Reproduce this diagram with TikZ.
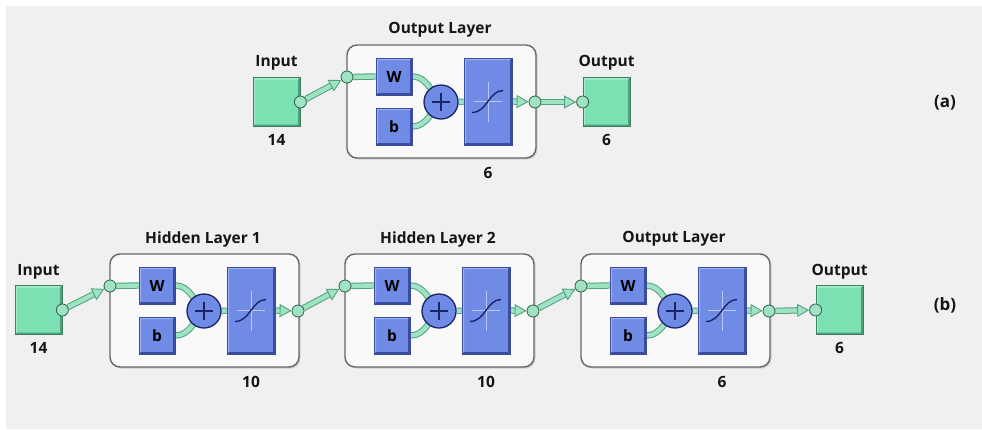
\documentclass[tikz,border=0pt]{standalone}
\usepackage{fontspec}
\setmainfont{Open Sans}
\usetikzlibrary{arrows.meta,calc}
\definecolor{bgG}{HTML}{F0F0F0}
\definecolor{mint}{HTML}{7BE0B2}
\definecolor{mintL}{HTML}{A8EECD}
\definecolor{mintD}{HTML}{4E9E7C}
\definecolor{bandL}{HTML}{9FE3C2}
\definecolor{bandD}{HTML}{4FA37F}
\definecolor{blu}{HTML}{6F8BE6}
\definecolor{bluL}{HTML}{9CAFF2}
\definecolor{bluD}{HTML}{3C4C9C}
\definecolor{navy}{HTML}{1B2466}
\definecolor{boxG}{HTML}{666666}
\definecolor{boxF}{HTML}{F9F9F9}
\definecolor{txt}{HTML}{151515}
\pgfdeclarelayer{back}\pgfdeclarelayer{bg}\pgfdeclarelayer{fg}
\pgfsetlayers{back,bg,main,fg}
\tikzset{
  lbl/.style={font=\bfseries\fontsize{15.5}{17}\selectfont, text=txt, inner sep=0pt},
  side/.style={font=\bfseries\fontsize{17}{19}\selectfont, text=txt, inner sep=0pt},
  bevel/.style 2 args={path picture={
    \fill[#1] (path picture bounding box.south west) -- (path picture bounding box.north west)
      -- (path picture bounding box.north east) -- ([xshift=-2pt,yshift=-2pt]path picture bounding box.north east)
      -- ([xshift=2pt,yshift=-2pt]path picture bounding box.north west) -- ([xshift=2pt,yshift=2pt]path picture bounding box.south west) -- cycle;
    \fill[#2] (path picture bounding box.south west) -- (path picture bounding box.south east)
      -- (path picture bounding box.north east) -- ([xshift=-2pt,yshift=-2pt]path picture bounding box.north east)
      -- ([xshift=-2pt,yshift=2pt]path picture bounding box.south east) -- ([xshift=2pt,yshift=2pt]path picture bounding box.south west) -- cycle;
  }},
  blk/.style={draw=bluD, line width=0.8pt, fill=blu, inner sep=0pt, bevel={bluL}{bluD},
    font=\bfseries\fontsize{15.5}{17}\selectfont, text=black},
  sq/.style={draw=mintD!80!black, line width=0.8pt, fill=mint, minimum width=47pt, minimum height=49pt,
    inner sep=0pt, bevel={mintL}{mintD}},
  dot/.style={circle, draw=mintD!60!black, line width=0.8pt, fill=bandL, minimum size=12pt, inner sep=0pt},
  plusc/.style={circle, draw=navy, line width=1.3pt, fill=blu, minimum size=34pt, inner sep=0pt,
    path picture={
      \draw[navy, line width=1.5pt] ([xshift=-9pt]path picture bounding box.center) -- ([xshift=9pt]path picture bounding box.center);
      \draw[navy, line width=1.5pt] ([yshift=-9pt]path picture bounding box.center) -- ([yshift=9pt]path picture bounding box.center);
    }},
  band/.style={line width=4.4pt, bandL, preaction={draw=bandD, line width=6.4pt}},
  arr/.style={line width=4.4pt, bandL,
    -{Triangle[length=12pt, width=13pt, line width=0.9pt, color=bandD, fill=bandL]},
    preaction={draw=bandD, line width=6.4pt, -{}, shorten >=11pt}},
}
\newcommand\nnlayer[5]{%
  \begin{pgfonlayer}{bg}
    \fill[black!18, rounded corners=10pt] (#2+1.5,#3+1.5) rectangle ++(189,113);
    \draw[boxG, line width=1.4pt, fill=boxF, rounded corners=10pt] (#2,#3) rectangle ++(189,113);
  \end{pgfonlayer}
  \node[lbl] (#1title) at (#2+93,#3-15) {#4};
  \node[lbl] (#1count) at (#2+141,#3+128) {#5};
  \begin{pgfonlayer}{fg}
    \node[blk, minimum width=36pt, minimum height=37pt] (#1W) at (#2+47,#3+31.5) {W};
    \node[blk, minimum width=36pt, minimum height=37pt] (#1b) at (#2+47,#3+81.5) {b};
    \node[plusc] (#1p) at (#2+94,#3+57) {};
    \node[blk, minimum width=48pt, minimum height=87pt] (#1t) at (#2+141,#3+56.5) {};
    \draw[bluL!70!white, line width=0.8pt] ([xshift=-14pt]#1t.center) -- ([xshift=14pt]#1t.center);
    \draw[bluL!70!white, line width=0.8pt] ([yshift=-20pt]#1t.center) -- ([yshift=20pt]#1t.center);
    \draw[navy, line width=1.4pt] ([shift={(-16pt,-11pt)}]#1t.center)
      .. controls ([shift={(-1pt,-11pt)}]#1t.center) and ([shift={(1pt,11pt)}]#1t.center)
      .. ([shift={(15pt,11pt)}]#1t.center);
    \node[dot] (#1in) at (#2,#3+32) {};
    \node[dot] (#1out) at (#2+188,#3+57) {};
  \end{pgfonlayer}
  \draw[band] (#1in) -- (#1W.west);
  \draw[band] (#1W.east) .. controls +(14,0) and +(-10,-10) .. (#1p.center);
  \draw[band] (#1b.east) .. controls +(14,0) and +(-10,10) .. (#1p.center);
  \draw[band] (#1p) -- (#1t);
  \draw[arr] (#1t.east) -- (#1out);
}
\begin{document}
\begin{tikzpicture}[x=1pt,y=-1pt]
  \useasboundingbox (0,0) rectangle (982,429);
  \begin{pgfonlayer}{back}
    \fill[white] (0,0) rectangle (982,429);
    \fill[bgG] (6,6) rectangle (982,429);
  \end{pgfonlayer}
  % ---------- (a)
  \begin{pgfonlayer}{fg}
    \node[sq] (ia) at (276.5,102) {};
    \node[dot] (iac) at (ia.east) {};
    \node[sq] (oa) at (606.5,102) {};
    \node[dot] (oac) at (oa.west) {};
  \end{pgfonlayer}
  \node[lbl] (iaT) at (276.5,63) {Input};
  \node[lbl] (iaN) at (276.5,140) {14};
  \node[lbl] (oaT) at (606.5,63) {Output};
  \node[lbl] (oaN) at (606.5,140) {6};
  \nnlayer{A}{347}{45}{Output Layer}{6}
  \draw[arr] (iac) -- (Ain);
  \draw[arr] (Aout) -- (oac);
  \node[side] (la) at (945,103) {(a)};
  % ---------- (b)
  \begin{pgfonlayer}{fg}
    \node[sq] (ib) at (38.5,310) {};
    \node[dot] (ibc) at (ib.east) {};
    \node[sq] (ob) at (839.5,310) {};
    \node[dot] (obc) at (ob.west) {};
  \end{pgfonlayer}
  \node[lbl] (ibT) at (38.5,272) {Input};
  \node[lbl] (ibN) at (38.5,348) {14};
  \node[lbl] (obT) at (839.5,272) {Output};
  \node[lbl] (obN) at (839.5,348) {6};
  \nnlayer{H}{110}{254}{Hidden Layer 1}{10}
  \nnlayer{I}{345}{254}{Hidden Layer 2}{10}
  \nnlayer{J}{581}{254}{Output Layer}{6}
  \draw[arr] (ibc) -- (Hin);
  \draw[arr] (Hout) -- (Iin);
  \draw[arr] (Iout) -- (Jin);
  \draw[arr] (Jout) -- (obc);
  \node[side] (lb) at (945,305) {(b)};
\end{tikzpicture}
\end{document}
